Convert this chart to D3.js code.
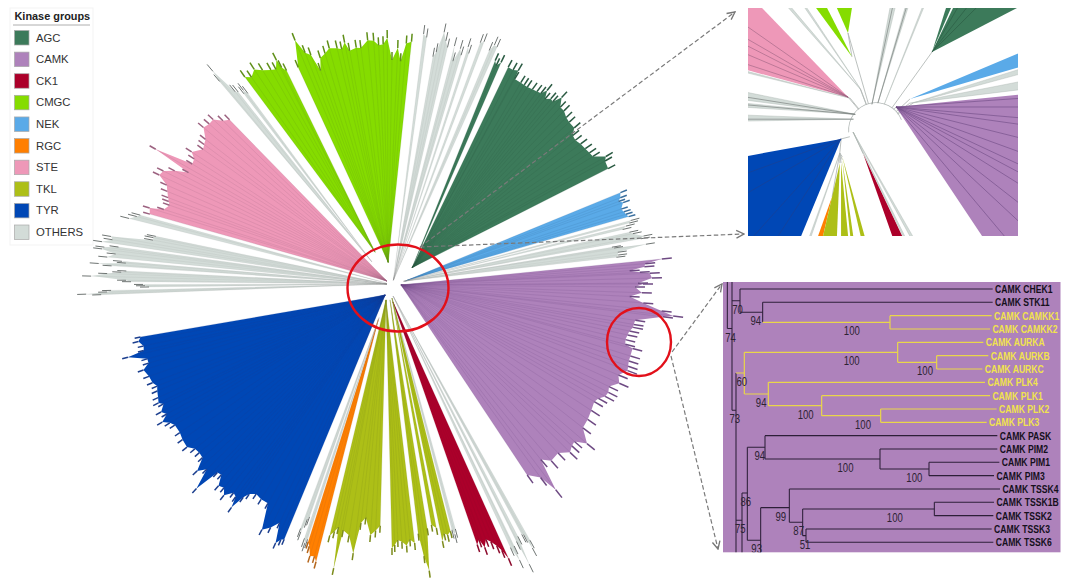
<!DOCTYPE html>
<html><head><meta charset="utf-8">
<style>html,body{margin:0;padding:0;background:#fff}svg{display:block}text{font-family:"Liberation Sans",Arial,sans-serif}</style>
<script src="https://cdn.jsdelivr.net/npm/d3@7"></script></head><body>
<svg id="c" width="1067" height="579"></svg>
<script>
// ---------- legend ----------
const groupNames=["AGC","CAMK","CK1","CMGC","NEK","RGC","STE","TKL","TYR","OTHERS"];
const groupColors=["#3c7a5a","#ae82bb","#ac002a","#85dc00","#5aaae8","#ff7f00","#ee98b8","#adbf17","#0047b5","#d3dcd8"];
const groupTipColors=["#2a5a42","#6e4a83","#8c0a2c","#5f8f18","#3a6f9e","#b5661c","#9c6280","#7b8a1a","#1c3f8e","#6f7573"];
const groupTipLengths=[8,10,8,8,7,7,7,7,6,9];

// ---------- main tree: leaf tip angle (deg clockwise from north) and tip radius ----------
const agcStripAngles=[24.8,25.5,26.2];
const agcStripRadii=[254,250,255];
const agcAngles=[28.2,29.5,30.6,30.9,32.6,33.6,34.5,35.8,37,38,38.7,39.6,40.6,41.4,42.3,43.6,44.8,46.3,47.6,49.4,50.6,51.9,53.4,55,56.4,57.6,59.2,60,61.9];
const agcRadii=[254,254,256,247,247,247,247,248,249,250,256,248,252,251,260,252,252,249,248,248,242,241,243,244,245,246,257,254,253];
const nekAngles=[68.2,69.3,70,70.6,71.9,72.7,73.4,74.1];
const nekRadii=[253,251,248,252,248,250,251,253];
const camkAngles=[84.7,85.4,86.1,86.8,87.3,87.6,88.7,89.8,90,90.7,92,93,94.3,95.7,96.5,96.9,98.5,99.5,100.2,101.2,102.2,103.4,104.5,105,106.8,108,109.2,110.2,111.9,113.6,115.3,116.6,117.8,119,120.2,122.4,124.7,127,129.3,130.8,132,133.4,135.5,138,139.7,141.5,142.5,144.7];
const camkRadii=[281,264,263,248,258,268,270,256,261,253,260,248,262,281,293,283,256,255,255,252,251,250,251,259,259,259,260,261,254,258,250,252,251,246,244,246,248,249,262,251,252,255,247,248,240,273,254,244];
const ck1Angles=[157,157.6,158.2,159,159.8,160.6,161.2,161.9];
const ck1Radii=[306,296,290,284,280,287,278,282];
const tklAAngles=[182.8,183.8,184.9,186.4,187.4,188.2,189.7,191.2,191.6,192.4,193.1,193.9];
const tklARadii=[249,254,259,242,248,279,262,258,297,256,261,266];
const tklBAngles=[175,176,176.8,177.8,178.7,179.4,180];
const tklBRadii=[267,263,269,265,263,268,271];
const tklCAngles=[171.8,172.6,173.3,174];
const tklCRadii=[254,296,281,258];
const tklDAngles=[169.7,170.7];
const tklDRadii=[255,251];
const tklEAngles=[166.7,167.5,168.2,168.9];
const tklERadii=[261,264,262,269];
const rgcAngles=[195.3,195.9,196.8,197.5,198];
const rgcRadii=[295,290,291,282,278];
const tyrAngles=[202.9,203.5,204.2,205.2,206.5,207.9,209.5,211.3,212.9,214.2,214.9,215.7,216.3,217.2,218.5,219.5,220.7,221.8,222.8,223.7,225,226.2,227.5,228.8,230.1,231.5,233.4,235,237,238,239,240,241,242.3,243,244.1,245.5,246.5,247.6,249.2,250.9,252,253,254.5,255,256,257.2,258.1];
const tyrRadii=[283,285,290,270,278,284,258,258,256,260,266,281,270,268,276,270,272,262,263,289,268,276,263,262,263,268,267,265,265,268,274,266,270,264,268,266,264,262,265,266,269,262,262,280,263,262,266,263];
const steAngles=[286.1,287.4,288.1,289.5,290.3,291.1,292.4,293.7,295.1,296.3,297.5,298.7,299.7,301,302.3,303.4,305.5,306.6,307.8,309.7,311.2,312.6,314,315.3];
const steRadii=[259,261,247,243,245,247,250,253,264,262,252,239,279,240,241,247,239,241,243,252,250,250,242,238];
const cmgcSmallAngles=[324.6,325.8,327.3,328.8,330.5,331.6,332.7,333,333.7];
const cmgcSmallRadii=[262,258,263,258,254,252,260,251,246];
const cmgcAngles=[336.6,338.3,339.4,340.5,341.5,342.4,343.8,345.1,346.9,347.9,348.9,349.7,351.4,352.5,354.3,355.7,356.8,357.9,358.9,360,361.4,362.2,363.4,364.6];
const cmgcRadii=[244,270,255,251,233,245,248,252,250,248,254,245,247,246,253,252,247,248,254,232,244,231,249,251];
// OTHERS bands
const othTopAAngles=[7.2,8];          const othTopARadii=[261,258];
const othTopBAngles=[10.2,10.8,11.7,12.5,13.2]; const othTopBRadii=[240,245,266,258,252];
const othTopCAngles=[14.7,15.3,16.2,16.8]; const othTopCRadii=[255,240,254,248];
const othTopDAngles=[17.8,18.4];      const othTopDRadii=[258,252];
const othTopEAngles=[20.1,20.8];      const othTopERadii=[266,268];
const othTopFAngles=[22.6,23.2,23.9]; const othTopFRadii=[262,269,268];
const othRightAAngles=[75.1,75.6];    const othRightARadii=[256,254];
const othRightBAngles=[76.1,76.7];    const othRightBRadii=[250,246];
const othRightCAngles=[77.7,78.2,79.2,79.7]; const othRightCRadii=[252,255,265,262];
const othRightDAngles=[80.5,80.8,81.1,82,82.7,83.2]; const othRightDRadii=[232,234,266,237,237,235];
const othCkAAngles=[155,155.2,155.8]; const othCkARadii=[298,313,298];
const othCkBAngles=[153.5,153.9,154.2]; const othCkBRadii=[291,321,295];
const othCkCAngles=[151.7,152,152.3,152.6]; const othCkCRadii=[300,308,292,291];
const othTklAngles=[165.5,165.9,166.3]; const othTklRadii=[262,267,262];
const othTyrAAngles=[199.5,199.8,200.2,200.5]; const othTyrARadii=[256,259,273,270];
const othTyrBAngles=[198.3,198.6,199]; const othTyrBRadii=[278,282,278];
const othLeftAAngles=[267.9,268.1,268.4,268.7]; const othLeftARadii=[300,315,294,290];
const othLeftBAngles=[269.3,269.6,269.9]; const othLeftBRadii=[252,256,258];
const othLeftCAngles=[270.5,270.8,271.5,272.1,272.5,272.8]; const othLeftCRadii=[270,275,310,294,280,275];
const othLeftDAngles=[273.7,274,274.5,274.8]; const othLeftDRadii=[290,303,276,280];
const othLeftEAngles=[275.4,276.2,276.9,277.3,277.7]; const othLeftERadii=[295,287,301,299,285];
const othLeftFAngles=[278.3,279,279.6,280.4,281,281.4]; const othLeftFRadii=[302,292,294,252,252,250];
const othLeftGAngles=[284,284.8,285.3]; const othLeftGRadii=[280,273,270];
const othUpperAAngles=[319.6,319.9,320.8,321.3]; const othUpperARadii=[275,287,257,255];
const othUpperBAngles=[322.1,322.5,322.9]; const othUpperBRadii=[250,253,248];

const wedgeGroup=["OTHERS","OTHERS","OTHERS","OTHERS","OTHERS","OTHERS","AGC","AGC","NEK","OTHERS","OTHERS","OTHERS","OTHERS","CAMK","OTHERS","OTHERS","OTHERS","CK1","OTHERS","TKL","TKL","TKL","TKL","TKL","OTHERS","RGC","OTHERS","TYR","OTHERS","OTHERS","OTHERS","OTHERS","OTHERS","OTHERS","OTHERS","STE","OTHERS","OTHERS","CMGC","CMGC"];
const wedgeAngles=[othTopAAngles,othTopBAngles,othTopCAngles,othTopDAngles,othTopEAngles,othTopFAngles,agcStripAngles,agcAngles,nekAngles,othRightAAngles,othRightBAngles,othRightCAngles,othRightDAngles,camkAngles,othCkAAngles,othCkBAngles,othCkCAngles,ck1Angles,othTklAngles,tklEAngles,tklDAngles,tklCAngles,tklBAngles,tklAAngles,othTyrAAngles,rgcAngles,othTyrBAngles,tyrAngles,othLeftAAngles,othLeftBAngles,othLeftCAngles,othLeftDAngles,othLeftEAngles,othLeftFAngles,othLeftGAngles,steAngles,othUpperAAngles,othUpperBAngles,cmgcSmallAngles,cmgcAngles];
const wedgeRadii=[othTopARadii,othTopBRadii,othTopCRadii,othTopDRadii,othTopERadii,othTopFRadii,agcStripRadii,agcRadii,nekRadii,othRightARadii,othRightBRadii,othRightCRadii,othRightDRadii,camkRadii,othCkARadii,othCkBRadii,othCkCRadii,ck1Radii,othTklRadii,tklERadii,tklDRadii,tklCRadii,tklBRadii,tklARadii,othTyrARadii,rgcRadii,othTyrBRadii,tyrRadii,othLeftARadii,othLeftBRadii,othLeftCRadii,othLeftDRadii,othLeftERadii,othLeftFRadii,othLeftGRadii,steRadii,othUpperARadii,othUpperBRadii,cmgcSmallRadii,cmgcRadii];
// branch point each clade fans out from
const wedgeApexAngle=[20,20,20,20,20,20,51,51,77,77,77,77,77,96,175,175,175,177,180,180,180,187,200.6,200.6,201,201,201,212,270,270,270,270,270,270,280,300,317.7,317.7,332,350];
const wedgeApexRadius=[4,4,4,4,4,4,26,26,14,12,12,12,12,9,12,12,12,18,14,14,14,16,17,17,36,38,36,13,5,5,5,5,5,5,6,6,30,30,36,22];

// ---------- upper inset: branch point (polar) and the two edge directions of each fan ----------
const insetGroup=["STE","OTHERS","OTHERS","OTHERS","OTHERS","OTHERS","OTHERS","CMGC","CMGC","OTHERS","OTHERS","OTHERS","AGC","AGC","NEK","OTHERS","OTHERS","CAMK","TYR","OTHERS","RGC","TKL","TKL","TKL","TKL","CK1","OTHERS","OTHERS"];
const insetApexAngle=[319.7,320.9,307,307,295.6,339.4,339,341.8,343.9,351,4,18,35.7,35.7,47.6,53.9,51.5,41,255.6,237.4,213.3,227.5,226.7,228.6,231.5,208.4,265,265];
const insetApexRadius=[43,41,26,26,25,43,45,77,101,26,27,28,96,96,46,46,43,30.5,36,43,80,49,48,45,43,27,23,23];
const insetFrom=[285,283.8,277.4,273.7,269,318.5,325.5,323.7,336,10.6,15.9,21.4,25.5,17.6,67.2,72.4,78.9,84.3,202.4,199,193,182.3,174.5,171.8,164.3,154.6,153.6,150.2];
const insetTo=[316,284.6,281.5,275.8,272.2,319.8,326.5,333,369,13.5,17.5,22.2,62.6,23.3,73.8,74.9,83,146.3,259.7,200,199.7,193,180,174,167,160.5,154.4,151.4];
// fan whose branch point each stem starts from; -1 is the central arc
const insetStemParent=[-1,-1,-1,-1,-1,-1,-1,8,-1,-1,-1,-1,-1,12,-1,-1,-1,-1,-1,18,19,19,19,19,19,26,-1,-1];
const insetBranchFan=[0,0,0,0,0,17,17,17,17,17,17,17,17,17,17,17,17,18,18,18,18,12,12,12,2,3,4,9,10];
const insetBranchAngle=[288,293,297,300,305,86,90,95,98,104,110,115,118,122,128,133,140,213,222,240,250,30,38,45,279,275,270,12,16.6];

// ---------- CAMK subtree ----------
const treeId=["A","n74","top","H1","H2","stk","CHEK1","STK11","cmk","CAMKK1","CAMKK2","n73","yel","H3","aur","AURKA","bc","AURKB","AURKC","plk","PLK4","p123","PLK1","p23","PLK2","PLK3","n75","H4","n86","pask","PASK","pim","PIM2","p13","PIM1","PIM3","n93","H5","n99","TSSK4","n87","b2","TSSK1B","TSSK2","n36","TSSK3","TSSK6"];
const treeParent=[null,"A","n74","A","n74","top","top","stk","stk","cmk","cmk","n74","n73","n73","yel","aur","aur","bc","bc","yel","plk","plk","p123","p123","p23","p23","n73","n75","n75","n86","pask","pask","pim","pim","p13","p13","n86","n93","n93","n99","n99","n87","b2","b2","n87","n36","n36"];
const treeDepth=[22,36,60,22,36,128,818,818,510,815,810,48,73,48,533,790,650,805,787,145,795,305,810,482,830,800,66,66,82,135,832,480,832,627,838,822,122,122,208,840,248,643,822,820,258,815,820];
const treeRow=[-2,2.97,0.875,-3,-3,1.75,0,1,2.5,2,3,9.1,6.3,23,4.75,4,5.5,5,6,7.875,7,8.75,8,9.5,9,10,17.35,23,15.3,11.87,11,12.75,12,13.5,13,14,18.85,23,16.4,15,17.5,16.5,16,17,18.5,18,19];
const treeSupport=[null,74,70,null,null,94,null,null,100,null,null,73,60,null,100,null,100,null,null,94,null,100,null,100,null,null,75,null,86,94,null,100,null,100,null,null,93,null,99,null,87,100,null,null,51,null,null];
const treeLabel=["","","","","","","CAMK CHEK1","CAMK STK11","","CAMK CAMKK1","CAMK CAMKK2","","","","","CAMK AURKA","","CAMK AURKB","CAMK AURKC","","CAMK PLK4","","CAMK PLK1","","CAMK PLK2","CAMK PLK3","","","","","CAMK PASK","","CAMK PIM2","","CAMK PIM1","CAMK PIM3","","","","CAMK TSSK4","","","CAMK TSSK1B","CAMK TSSK2","","CAMK TSSK3","CAMK TSSK6"];
const treeYellowClades=["cmk","yel"];

// ---------- drawing ----------
const svg=d3.select("#c");
const color=d3.scaleOrdinal(groupNames,groupColors);
const tipColor=d3.scaleOrdinal(groupNames,groupTipColors);
const tipLen=d3.scaleOrdinal(groupNames,groupTipLengths);
const ang=d3.scaleLinear([0,360],[0,2*Math.PI]);
const rad=d3.scaleLinear([0,400],[0,400]);
const defs=svg.append("defs");

// legend
const lg=svg.append("g");
lg.append("rect").attr("x",10).attr("y",8).attr("width",83).attr("height",237).attr("fill","#fff").attr("stroke","#f3f3f3");
lg.append("text").attr("x",14.5).attr("y",20).attr("font-size",10.9).attr("font-weight","bold").attr("fill","#222").text("Kinase groups");
lg.append("line").attr("x1",13).attr("x2",90).attr("y1",25).attr("y2",25).attr("stroke","#999").attr("stroke-width",.8);
const legY=d3.scalePoint(groupNames,[30.5,225]);
lg.selectAll("rect.s").data(groupNames).join("rect").attr("class","s").attr("x",14.5).attr("y",d=>legY(d)).attr("width",14.5).attr("height",14.5).attr("fill",d=>color(d)).attr("stroke","#a9a9a9").attr("stroke-width",.7);
lg.selectAll("text.l").data(groupNames).join("text").attr("class","l").attr("x",36).attr("y",d=>legY(d)+11).attr("font-size",11.3).attr("fill","#333").text(d=>d);

// main radial tree
const main=svg.append("g").attr("transform","translate(392,284)");
const radial=d3.lineRadial().angle(d=>ang(d[0])).radius(d=>rad(d[1])).curve(d3.curveLinear);
wedgeGroup.forEach((g,i)=>{
  const apex=[wedgeApexAngle[i],wedgeApexRadius[i]];
  const len=tipLen(g);
  const leaves=wedgeAngles[i].map((a,j)=>[a,wedgeRadii[i][j]]);
  const fill=leaves.map(d=>[d[0],d[1]-len]);
  const w=main.append("g");
  w.append("path").attr("d",radial([apex,...fill])+"Z").attr("fill",color(g));
  w.selectAll("path.b").data(fill).join("path").attr("class","b").attr("d",d=>radial([apex,d])).attr("fill","none").attr("stroke",tipColor(g)).attr("stroke-opacity",g==="OTHERS"?.16:.36).attr("stroke-width",.5);
  w.selectAll("path.t").data(leaves).join("path").attr("class","t").attr("d",d=>radial([[d[0],d[1]-len],d])).attr("fill","none").attr("stroke",tipColor(g)).attr("stroke-width",g==="OTHERS"?1:1.5);
});

// upper inset
const insetClip=defs.append("clipPath").attr("id","ic");
insetClip.append("rect").attr("x",748).attr("y",8).attr("width",270).attr("height",228);
const insetOuter=svg.append("g").attr("clip-path","url(#ic)");
const inset=insetOuter.append("g").attr("transform","translate(876,130)");
const hubR=27;
const apexPt=i=>d3.pointRadial(ang(insetApexAngle[i]),rad(insetApexRadius[i]));
const farPt=(i,a)=>{const p=apexPt(i),q=d3.pointRadial(ang(a),rad(400));return [p[0]+q[0],p[1]+q[1]];};
inset.append("path").attr("d",d3.arc()({innerRadius:hubR,outerRadius:hubR+.8,startAngle:ang(-95),endAngle:ang(68)})).attr("fill","#b4bab8");
const lineXY=d3.line();
insetGroup.forEach((g,i)=>{
  const par=insetStemParent[i];
  if(par<0 && insetApexRadius[i]<=hubR) return;
  const from=par<0?d3.pointRadial(ang(insetApexAngle[i]),rad(hubR)):apexPt(par);
  inset.append("path").attr("d",lineXY([from,apexPt(i)])).attr("stroke","#b4bab8").attr("stroke-width",.9).attr("fill","none");
});
insetGroup.forEach((g,i)=>{
  inset.append("path").attr("d",lineXY([apexPt(i),farPt(i,insetFrom[i]),farPt(i,insetTo[i])])+"Z").attr("fill",color(g)).attr("stroke",g==="OTHERS"?"#aab3af":"none").attr("stroke-width",g==="OTHERS"?.4:0);
});
inset.selectAll("path.br").data(insetBranchAngle).join("path").attr("class","br")
  .attr("d",(a,k)=>lineXY([apexPt(insetBranchFan[k]),farPt(insetBranchFan[k],a)]))
  .attr("stroke",(a,k)=>tipColor(insetGroup[insetBranchFan[k]])).attr("stroke-width",.7).attr("stroke-opacity",.85).attr("fill","none");

// lower inset: rectangular phylogram
const treeRows=treeId.map((id,i)=>({id,parent:treeParent[i],depth0:treeDepth[i],row:treeRow[i],support:treeSupport[i],label:treeLabel[i]}));
const root=d3.stratify().id(d=>d.id).parentId(d=>d.parent)(treeRows);
const tx=d3.scaleLinear([0,1020],[720,1060]);
const ty=d3.scaleLinear([0,19],[289,542.3]);
const panelClip=defs.append("clipPath").attr("id","pc");
panelClip.append("rect").attr("x",723).attr("y",282).attr("width",337.5).attr("height",270.3);
svg.append("rect").attr("x",723).attr("y",282).attr("width",337.5).attr("height",270.3).attr("fill","#ae82bb");
const tree=svg.append("g").attr("clip-path","url(#pc)");
const isYellow=n=>n.ancestors().some(a=>treeYellowClades.includes(a.data.id));
root.descendants().forEach(n=>{
  const yc=isYellow(n)?"#e9d64a":"#2d1f38", sw=isYellow(n)?1.2:1.05;
  if(n.parent){
    tree.append("line").attr("x1",tx(n.parent.data.depth0)).attr("x2",tx(n.data.depth0)).attr("y1",ty(n.data.row)).attr("y2",ty(n.data.row)).attr("stroke",yc).attr("stroke-width",sw);
  }
  if(n.children){
    const rows=n.children.map(c=>c.data.row);
    tree.append("line").attr("x1",tx(n.data.depth0)).attr("x2",tx(n.data.depth0)).attr("y1",ty(d3.min(rows))).attr("y2",ty(d3.max(rows))).attr("stroke",yc).attr("stroke-width",sw);
  }
  if(n.data.label){
    tree.append("text").attr("transform",`translate(${tx(n.data.depth0)+2.4},${ty(n.data.row)+4}) scale(.75,1)`)
      .attr("font-size",11.5).attr("font-weight","bold").attr("fill",isYellow(n)?"#f1e34d":"#15101c").text(n.data.label);
  }
  if(n.data.support!=null){
    const px=n.parent.data.depth0, x=px+.7*(n.data.depth0-px);
    tree.append("text").attr("transform",`translate(${tx(x)},${ty(n.data.row)+13}) scale(.71,1)`).attr("text-anchor","middle")
      .attr("font-size",13.5).attr("fill","#2d2333").text(n.data.support);
  }
});

// callouts
const mk=defs.append("marker").attr("id","ah").attr("viewBox","0 0 10 10").attr("refX",9).attr("refY",5).attr("markerWidth",8).attr("markerHeight",8).attr("orient","auto");
mk.append("path").attr("d","M1,1L9,5L1,9").attr("fill","none").attr("stroke","#777").attr("stroke-width",1.4);
const callouts=[[420,247,735,12],[420,247,744,234],[672,352,722,284],[671,356,718,549]];
svg.selectAll("line.call").data(callouts).join("line").attr("class","call")
  .attr("x1",d=>d[0]).attr("y1",d=>d[1]).attr("x2",d=>d[2]).attr("y2",d=>d[3])
  .attr("stroke","#7a7a7a").attr("stroke-width",1.2).attr("stroke-dasharray","4.5 2.5").attr("marker-end","url(#ah)");
svg.append("ellipse").attr("cx",398).attr("cy",288).attr("rx",50.5).attr("ry",43.5).attr("fill","none").attr("stroke","#e2101a").attr("stroke-width",2.4);
svg.append("ellipse").attr("cx",639).attr("cy",342).attr("rx",32).attr("ry",34).attr("fill","none").attr("stroke","#e2101a").attr("stroke-width",2.4);
</script></body></html>
